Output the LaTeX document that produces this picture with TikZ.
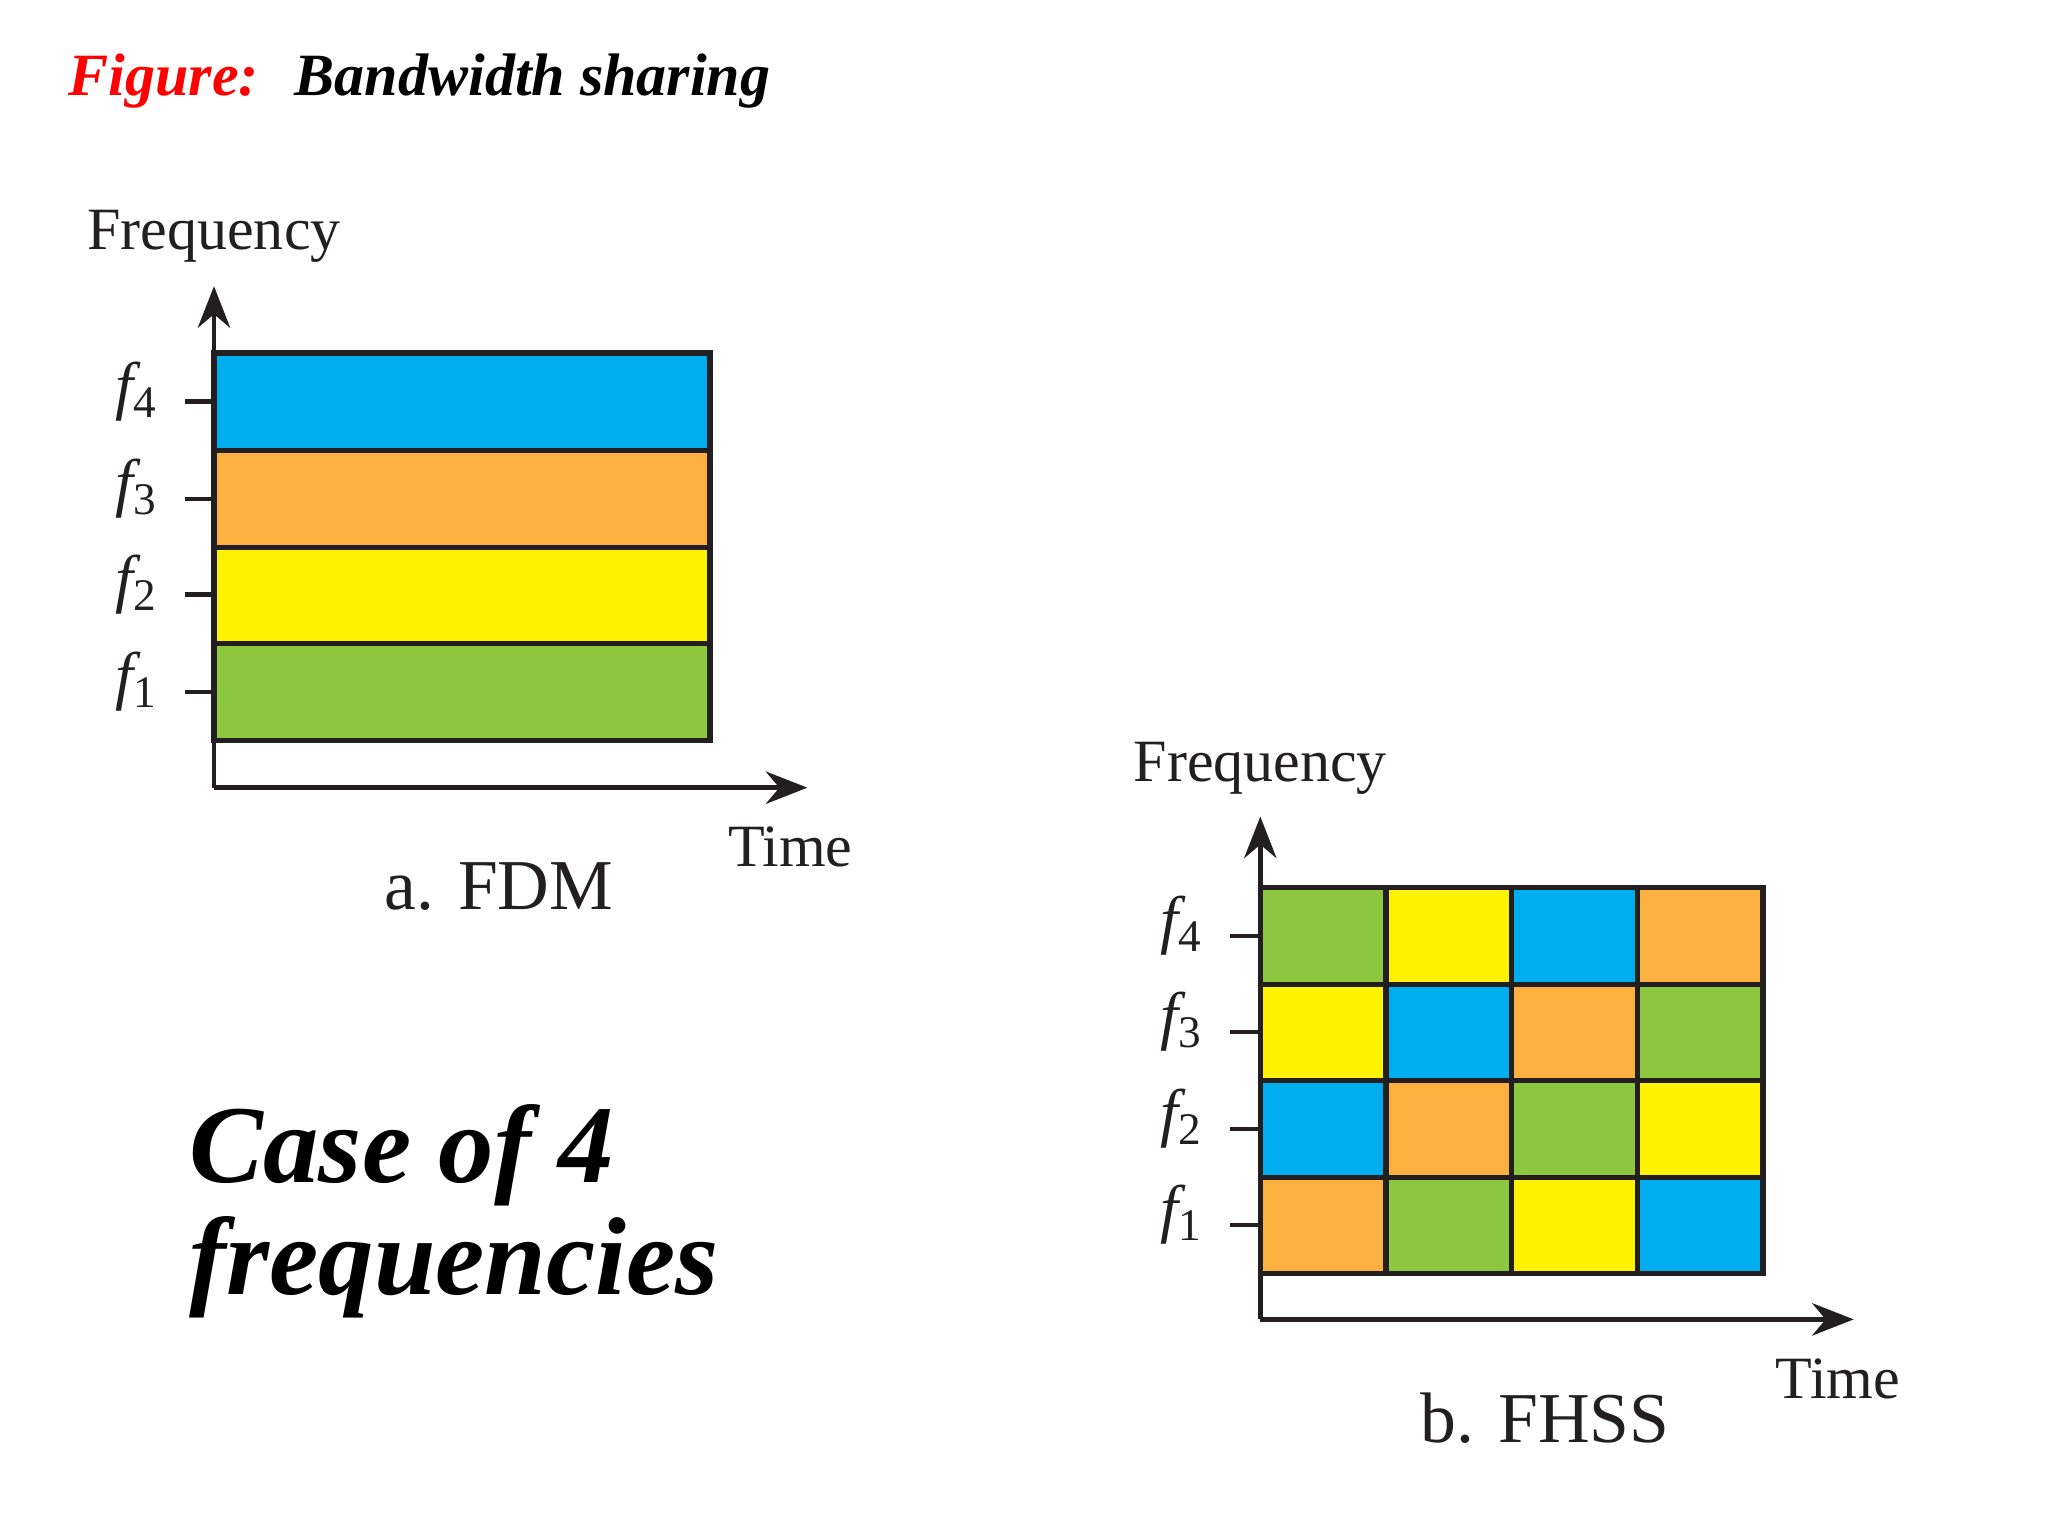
\documentclass[tikz,border=0pt]{standalone}
\usepackage{fontspec}
\setmainfont{Liberation Serif}
\usetikzlibrary{arrows.meta}
\definecolor{cB}{HTML}{00AEEF}
\definecolor{cO}{HTML}{FBB040}
\definecolor{cY}{HTML}{FFF200}
\definecolor{cG}{HTML}{8DC63F}
\definecolor{ln}{HTML}{231F20}
\tikzset{
 cell/.style={draw=ln,line width=1.2pt},
 axis/.style={draw=ln,line width=1pt,-{Stealth[length=9pt,width=7pt]}},
 tickmark/.style={draw=ln,line width=1pt},
 lab/.style={font=\fontsize{13}{15}\selectfont,text=ln},
 flab/.style={font=\fontsize{14}{16}\selectfont\itshape,text=ln},
 captext/.style={font=\fontsize{15.5}{18}\selectfont,text=ln},
}
\newcommand{\fl}[1]{$\mathit{f}_{\mathrm{#1}}$}
\begin{document}
\begin{tikzpicture}[x=0.01cm,y=-0.01cm]
\useasboundingbox (0,0) rectangle (1560,1170);
\node[anchor=west,font=\fontsize{13}{15}\selectfont\bfseries\itshape] (title) at (40,62) {\textcolor{red}{Figure:}\hspace{0.6em}Bandwidth sharing};
% FDM
\foreach \a/\b/\c in {269/343/cB,343/417/cO,417/490/cY,490/564/cG}
  \path[cell,fill=\c] (163,\a) rectangle (541,\b);
\coordinate (o1) at (163,600);
\coordinate (yt1) at (163,218);
\coordinate (xt1) at (615,600);
\draw[axis] (o1) -- (yt1);
\draw[axis] (o1) -- (xt1);
\foreach \y/\n in {306/4,380/3,453/2,527/1}{
  \coordinate (t1\n) at (141,\y);
  \draw[tickmark] (t1\n) -- ++(22,0);
  \node[flab,anchor=east] (fa\n) at (133,\y-8) {\fl{\n}};
}
\node[lab] (freq1) at (163,180) {Frequency};
\node[lab] (time1) at (602,645) {Time};
\node[captext] (capa) at (380,675) {a. FDM};
% FHSS
\foreach \r/\a/\b/\l in {0/676/750/{cG,cY,cB,cO},1/750/823/{cY,cB,cO,cG},2/823/897/{cB,cO,cG,cY},3/897/970/{cO,cG,cY,cB}}{
  \foreach \c [count=\i from 0] in \l
    \path[cell,fill=\c] (960+95.75*\i,\a) rectangle (960+95.75*\i+95.75,\b);
}
\coordinate (o2) at (960,1005);
\coordinate (yt2) at (960,622);
\coordinate (xt2) at (1412,1005);
\draw[axis] (o2) -- (yt2);
\draw[axis] (o2) -- (xt2);
\foreach \y/\n in {713/4,786/3,860/2,933/1}{
  \coordinate (t2\n) at (937,\y);
  \draw[tickmark] (t2\n) -- ++(23,0);
  \node[flab,anchor=east] (fb\n) at (929,\y-8) {\fl{\n}};
}
\node[lab] (freq2) at (960,585) {Frequency};
\node[lab] (time2) at (1400,1050) {Time};
\node[captext] (capb) at (1177,1080) {b. FHSS};
% case text
\node[anchor=west,font=\fontsize{24}{27}\selectfont\bfseries\itshape] (case1) at (132,880) {Case of 4};
\node[anchor=west,font=\fontsize{24}{27}\selectfont\bfseries\itshape] (case2) at (132,965) {frequencies};
\end{tikzpicture}
\end{document}
